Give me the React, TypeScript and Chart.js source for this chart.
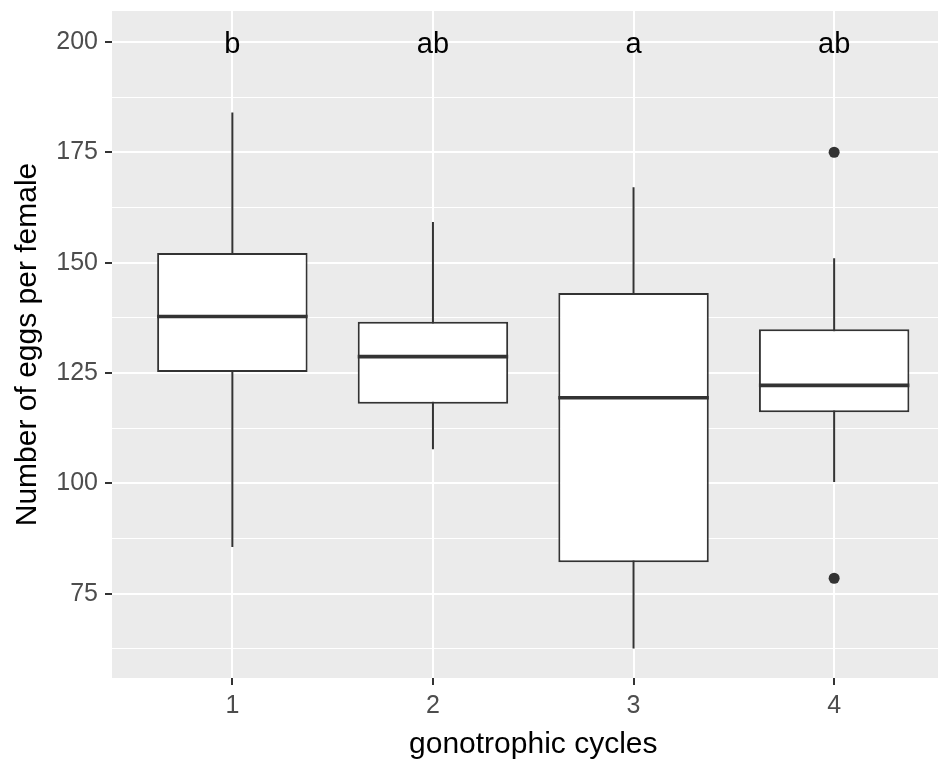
import { useEffect, useRef } from 'react';
import { Chart, registerables } from 'chart.js';

Chart.register(...registerables);

// Egg counts per female by gonotrophic cycle (box-plot summary)
const cycles = [1, 2, 3, 4];
const whiskerLow = [85.6, 107.7, 62.6, 100.3];
const quartile1 = [125.2, 118.0, 82.1, 116.1];
const medians = [137.8, 128.7, 119.4, 122.2];
const quartile3 = [152.2, 136.6, 143.1, 134.9];
const whiskerHigh = [184.0, 159.2, 167.1, 151.0];

// Points beyond the whiskers
const outlierCycle = [4, 4];
const outlierEggs = [175.0, 78.5];

// Significance letters, written at a fixed level above the boxes
const groupLetters = ['b', 'ab', 'a', 'ab'];
const letterLevel = 200;

// Axis ticks (y includes minor grid positions)
const xTickValues = [1, 2, 3, 4];
const yTickValues = [62.5, 75, 87.5, 100, 112.5, 125, 137.5, 150, 162.5, 175, 187.5, 200];

const BOX_WIDTH = 0.75;
const FONT = '"Liberation Sans", Arial, Helvetica, sans-serif';
const INK = '#333333';

const isMajor = (v: number) => Math.abs(v % 25) < 1e-9;

const noEdgePadding = (s: any) => {
  s.paddingTop = 0;
  s.paddingBottom = 0;
  s.paddingLeft = 0;
  s.paddingRight = 0;
};

const panelBackground = {
  id: 'panelBackground',
  beforeDraw(chart: any) {
    const { ctx, chartArea } = chart;
    ctx.save();
    ctx.fillStyle = '#EBEBEB';
    ctx.fillRect(chartArea.left, chartArea.top, chartArea.right - chartArea.left, chartArea.bottom - chartArea.top);
    ctx.restore();
  },
};

const letterLabels = {
  id: 'letterLabels',
  afterDatasetsDraw(chart: any) {
    const { ctx } = chart;
    const xs = chart.scales.x;
    const ys = chart.scales.y;
    ctx.save();
    ctx.font = `29px ${FONT}`;
    ctx.fillStyle = '#000000';
    ctx.textAlign = 'center';
    ctx.textBaseline = 'middle';
    groupLetters.forEach((t, i) => {
      ctx.fillText(t, xs.getPixelForValue(cycles[i]), ys.getPixelForValue(letterLevel) + 3);
    });
    ctx.restore();
  },
};

export default function App() {
  const canvasRef = useRef<HTMLCanvasElement | null>(null);

  useEffect(() => {
    document.body.style.margin = '0';
    document.body.style.overflow = 'hidden';
    const canvas = canvasRef.current;
    if (!canvas) return;

    const whiskers = cycles.flatMap((c, i) => [
      { x: c, y: whiskerLow[i] },
      { x: c, y: whiskerHigh[i] },
      { x: c, y: null },
    ]);
    const medianSegments = cycles.flatMap((c, i) => [
      { x: c - BOX_WIDTH / 2, y: medians[i] },
      { x: c + BOX_WIDTH / 2, y: medians[i] },
      { x: c, y: null },
    ]);
    const boxes = cycles.map((c, i) => ({ x: c, y: [quartile1[i], quartile3[i]] }));
    const outliers = outlierCycle.map((c, i) => ({ x: c, y: outlierEggs[i] }));

    const chart = new Chart(canvas, {
      type: 'bar',
      data: {
        datasets: [
          {
            type: 'line',
            label: 'whiskers',
            data: whiskers as any,
            borderColor: INK,
            borderWidth: 2,
            pointRadius: 0,
            spanGaps: false,
            order: 3,
          },
          {
            type: 'bar',
            label: 'boxes',
            data: boxes as any,
            backgroundColor: '#FFFFFF',
            borderColor: INK,
            borderWidth: 2,
            borderSkipped: false,
            barPercentage: BOX_WIDTH,
            categoryPercentage: 1,
            order: 2,
          },
          {
            type: 'line',
            label: 'medians',
            data: medianSegments as any,
            borderColor: INK,
            borderWidth: 3.6,
            borderCapStyle: 'butt',
            pointRadius: 0,
            spanGaps: false,
            order: 1,
          },
          {
            type: 'scatter',
            label: 'outliers',
            data: outliers as any,
            backgroundColor: INK,
            borderWidth: 0,
            pointRadius: 5.5,
            order: 0,
          },
        ] as any,
      },
      options: {
        animation: false,
        responsive: false,
        events: [],
        layout: { padding: { top: 11, left: 0, right: 0, bottom: 0 } },
        plugins: {
          legend: { display: false },
          tooltip: { enabled: false },
        },
        scales: {
          x: {
            type: 'linear',
            min: 0.4,
            max: 4.6,
            offset: false,
            afterBuildTicks: (s: any) => {
              s.ticks = xTickValues.map((v) => ({ value: v }));
            },
            afterFit: (s: any) => {
              s.height = 83;
              noEdgePadding(s);
            },
            grid: {
              offset: false,
              color: '#FFFFFF',
              lineWidth: 2,
              tickColor: INK,
              tickLength: 7,
              tickWidth: 2,
            },
            border: { display: false },
            ticks: {
              color: '#4D4D4D',
              font: { family: FONT, size: 25 },
              padding: 6,
              autoSkip: false,
              maxRotation: 0,
              callback: (v: any) => String(v),
            },
            title: {
              display: true,
              text: 'gonotrophic cycles',
              color: '#000000',
              font: { family: FONT, size: 30, lineHeight: 1.1 },
              padding: { top: 0, bottom: 0 },
            },
          },
          y: {
            type: 'linear',
            min: 55.9,
            max: 207.0,
            afterBuildTicks: (s: any) => {
              s.ticks = yTickValues.map((v) => ({ value: v }));
            },
            afterFit: (s: any) => {
              s.width = 112;
              noEdgePadding(s);
            },
            grid: {
              color: '#FFFFFF',
              lineWidth: (c: any) => (c.tick && isMajor(c.tick.value) ? 2 : 1.1),
              tickColor: (c: any) => (c.tick && isMajor(c.tick.value) ? INK : 'rgba(0,0,0,0)'),
              tickLength: 7,
              tickWidth: 2,
            },
            border: { display: false },
            ticks: {
              color: '#4D4D4D',
              font: { family: FONT, size: 25 },
              padding: 7,
              autoSkip: false,
              callback: (v: any) => (isMajor(Number(v)) ? String(v) : ''),
            },
            title: {
              display: true,
              text: 'Number of eggs per female',
              color: '#000000',
              font: { family: FONT, size: 30 },
              padding: { top: 10, bottom: 0 },
            },
          },
        },
      } as any,
      plugins: [panelBackground, letterLabels],
    });

    return () => chart.destroy();
  }, []);

  // The plot panel runs slightly past the visible window on the right
  return (
    <div style={{ width: 938, height: 761, overflow: 'hidden' }}>
      <canvas ref={canvasRef} width={960} height={761} style={{ display: 'block' }} />
    </div>
  );
}
